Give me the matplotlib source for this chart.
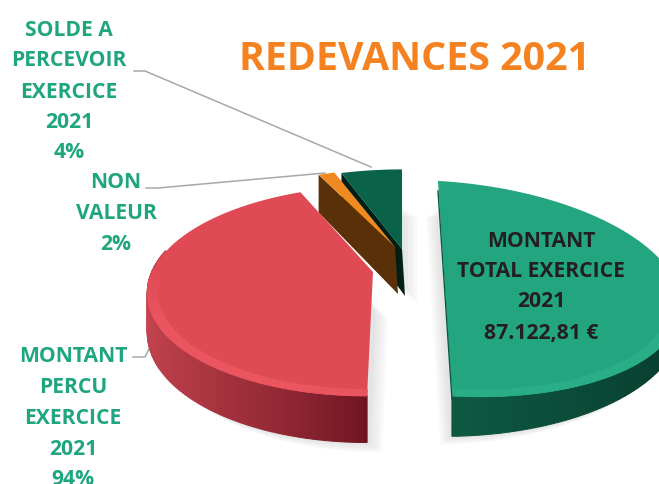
import numpy as np
import matplotlib.pyplot as plt
from matplotlib.colors import to_rgb

plt.rcParams['font.family'] = ['Open Sans', 'DejaVu Sans']

# slice shares as they appear on the drawing, clockwise from 12 o'clock
slice_names = ['MONTANT TOTAL', 'MONTANT PERCU', 'NON VALEUR', 'SOLDE A PERCEVOIR']
slice_values = [50.0, 43.4, 1.4, 5.2]

top_colors = ['#23A57F', '#E04A55', '#EE8A1F', '#0A6349']
rim_colors = ['#2AAE87', '#EA5560', '#EE8A1F', '#0A6349']
side_light = ['#0F5C45', '#C5454F', '#5A3009', '#001F17']
side_dark = ['#073A2B', '#6E1421', '#5A3009', '#001F17']

# where each exploded slice sits on the page
apex_x = [443.7, 373, 395, 402]
apex_y = [270, 273, 248, 250]
radius_x = [232, 221, 221, 221]
radius_y = [104, 101.6, 92, 94]
shear = [0.065, -0.048, 0.0, 0.0]
tilt = [0.056, 0.0, 0.0, 0.0]
depth = [33, 38, 44, 44]
taper = [0.5, 0.0, 0.0, 0.0]
shadow_shift = [(-7, 5), (9, 6), (0, 0), (9, 6)]
PERSPECTIVE = 0.181

TITLE = 'REDEVANCES 2021'
solde_label = ['SOLDE A', 'PERCEVOIR', 'EXERCICE', '2021', '4%']
solde_y = [31, 61, 92, 122, 153]
non_valeur_label = ['NON', 'VALEUR', '2%']
non_valeur_y = [183, 214, 245]
percu_label = ['MONTANT', 'PERCU', 'EXERCICE', '2021', '94%']
percu_y = [357, 388, 419, 450, 480]
total_label = ['MONTANT', 'TOTAL EXERCICE', '2021', '87.122,81 €']
total_y = [242, 272, 302, 334]

TEAL = '#1FA67F'
GREY = '#A8A8A8'


def project(i, theta, scale=1.0):
    # theta in degrees clockwise from the top, disc seen in perspective
    t = np.radians(theta)
    u = np.sin(t) * scale
    v = np.cos(t) * scale
    w = 1 + PERSPECTIVE * v
    dy = -radius_y[i] * v / w
    dx = radius_x[i] * u / w
    x = apex_x[i] + dx + shear[i] * dy
    y = apex_y[i] + dy + tilt[i] * dx
    return x, y


def drop(i, theta):
    t = np.radians(theta)
    u = np.sin(t)
    v = np.cos(t)
    return depth[i] / (1 + PERSPECTIVE * v) * (1 - taper[i] * np.clip(u, 0, 1))


def draw_shadow(ax, i, start, end):
    dx, dy = shadow_shift[i]
    if dx == 0 and dy == 0:
        return
    th = np.linspace(start, end, 80)
    x, y = project(i, th)
    y = y + drop(i, th)
    xs = np.r_[apex_x[i], x]
    ys = np.r_[apex_y[i] + depth[i], y]
    for k in range(1, 6):
        ax.fill(xs + dx * k / 3, ys + dy * k / 3, color='#555555', alpha=0.03, lw=0, zorder=1)


def draw_side(ax, i, start, end, z):
    # outer wall, cut into strips so the colour can run dark towards the front
    th = np.linspace(start, end, 200)
    x, y = project(i, th)
    d = drop(i, th)
    c0 = np.array(to_rgb(side_light[i]))
    c1 = np.array(to_rgb(side_dark[i]))
    for k in range(len(th) - 1):
        # the far part of the wall is hidden behind the top face
        if np.cos(np.radians(th[k])) > 0.2:
            continue
        s = np.sin(np.radians(th[k]))
        if i == 0:
            f = 0.1 + 0.9 * s
        else:
            f = 1 - abs(s) ** 0.8
        col = c0 + (c1 - c0) * np.clip(f, 0, 1)
        ax.fill([x[k], x[k + 1], x[k + 1], x[k]],
                [y[k] - 1, y[k + 1] - 1, y[k + 1] + d[k + 1], y[k] + d[k]],
                color=col, ec=col, lw=0.8, zorder=z)


def draw_top(ax, i, start, end, z):
    th = np.linspace(start, end, 120)
    x, y = project(i, th)
    ax.fill(np.r_[apex_x[i], x], np.r_[apex_y[i], y], color=top_colors[i], lw=0, zorder=z)
    if i > 1:
        return
    # soft lighter bevel that fades in along the near rim
    c0 = np.array(to_rgb(top_colors[i]))
    c1 = np.array(to_rgb(rim_colors[i]))
    for k in range(len(th) - 1):
        f = np.clip(-np.cos(np.radians(th[k])) * 2.2, 0, 1)
        if f <= 0:
            continue
        seg = th[k:k + 2]
        x1, y1 = project(i, seg)
        x2, y2 = project(i, seg, 0.955)
        col = c0 + (c1 - c0) * f
        ax.fill(np.r_[x1, x2[::-1]], np.r_[y1, y2[::-1]], color=col, ec=col, lw=0.5, zorder=z)


def draw_cut(ax, i, theta, z):
    # flat face left by the exploded slice
    x, y = project(i, theta)
    ax.fill([x, apex_x[i], apex_x[i] + 3, x],
            [y, apex_y[i], apex_y[i] + depth[i] + 3, y + drop(i, theta)],
            color=side_dark[i], lw=0, zorder=z)


def draw_labels(ax):
    ax.text(415, 59, TITLE, color='#F58220', fontsize=28.4, fontweight='bold',
            ha='center', va='center', zorder=10)
    for line, y in zip(solde_label, solde_y):
        ax.text(69, y, line, color=TEAL, fontsize=15.2, fontweight='bold', ha='center', va='center')
    for line, y in zip(non_valeur_label, non_valeur_y):
        ax.text(116, y, line, color=TEAL, fontsize=15.2, fontweight='bold', ha='center', va='center')
    for line, y in zip(percu_label, percu_y):
        ax.text(73, y, line, color=TEAL, fontsize=15.2, fontweight='bold', ha='center', va='center')
    for line, y in zip(total_label, total_y):
        ax.text(541, y, line, color='#231F20', fontsize=15.2, fontweight='bold',
                ha='center', va='center', zorder=10)


def main():
    fig = plt.figure(figsize=(6.59, 4.85), dpi=100)
    ax = fig.add_axes([0, 0, 1, 1])
    ax.set_xlim(0, 659)
    ax.set_ylim(485, 0)
    ax.axis('off')

    bounds = np.r_[0, np.cumsum(slice_values)] / np.sum(slice_values) * 360

    # leader lines sit behind the slices
    ax.plot([134, 145, 371], [72, 72, 168], color=GREY, lw=1.1, zorder=2)
    ax.plot([146, 158, 325], [189, 189, 174], color=GREY, lw=1.1, zorder=2)
    ax.plot([133, 145, 153], [358, 358, 342], color=GREY, lw=1.1, zorder=2)

    # back to front: dark green, orange, red, green
    for i, z in [(3, 3), (2, 4), (1, 5), (0, 6)]:
        start, end = bounds[i], bounds[i + 1]
        draw_shadow(ax, i, start, end)
        if i >= 2:
            draw_cut(ax, i, start, z)
        else:
            draw_side(ax, i, start, end, z)
        draw_top(ax, i, start, end, z + 0.1)

    # thin dark strip on the flat edge of the big green slice
    x, y = project(0, np.array([0.0, 180.0]))
    ax.plot(x, y + np.array([10, 3]), color='#0F5C45', lw=1.0, zorder=6.2)

    draw_labels(ax)
    fig.savefig('out.png', dpi=100)
    plt.close(fig)


if __name__ == '__main__':
    main()
